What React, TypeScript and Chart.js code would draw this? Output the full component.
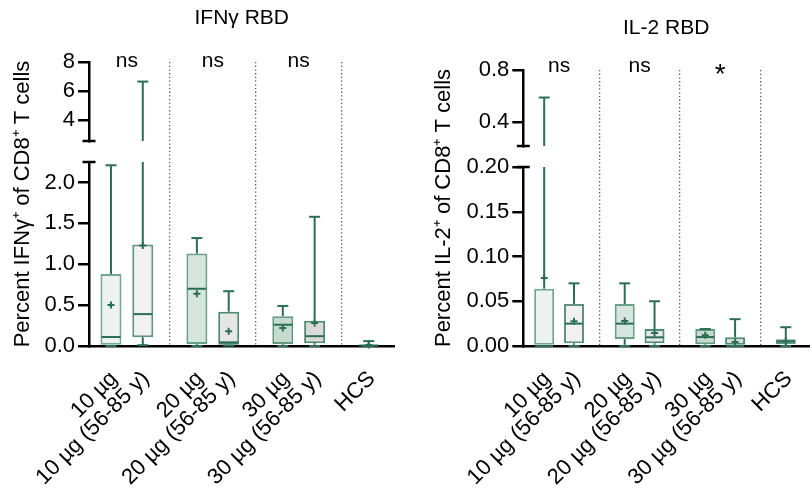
import React, { useEffect, useRef } from 'react';
import { Chart, registerables } from 'chart.js';

Chart.register(...registerables);

const FONT = '"Liberation Sans", Arial, Helvetica, sans-serif';
const GREEN = '#2b6e55';

// ---------- data ----------
const categories = ['10 µg', '10 µg (56-85 y)', '20 µg', '20 µg (56-85 y)', '30 µg', '30 µg (56-85 y)', 'HCS'];

// IFNγ RBD — percent IFNγ+ of CD8+ T cells
const ifnMin = [0.0, 0.01, 0.0, 0.005, 0.0, 0.0, 0.0];
const ifnQ1 = [0.0, 0.107, 0.025, 0.015, 0.025, 0.035, 0.0];
const ifnMedian = [0.11, 0.39, 0.7, 0.045, 0.26, 0.12, 0.006];
const ifnQ3 = [0.88, 1.24, 1.13, 0.42, 0.365, 0.31, 0.018];
const ifnMax = [2.21, 6.65, 1.32, 0.67, 0.49, 1.58, 0.06];
const ifnMean = [0.5, 1.23, 0.64, 0.18, 0.22, 0.28, 0.012];
const ifnSig = ['ns', 'ns', 'ns'];
const ifnLowTicks = [0, 0.5, 1.0, 1.5, 2.0];
const ifnHighTicks = [4, 6, 8];
const ifnLowRange = [0, 2.25];
const ifnHighRange = [2.55, 8];

// IL-2 RBD — percent IL-2+ of CD8+ T cells
const il2Min = [0.0, 0.0, 0.0, 0.0, 0.0, 0.0, 0.0];
const il2Q1 = [0.0, 0.003, 0.0078, 0.003, 0.002, 0.0, 0.002];
const il2Median = [0.0, 0.025, 0.025, 0.0097, 0.01, 0.0, 0.005];
const il2Q3 = [0.064, 0.047, 0.047, 0.019, 0.019, 0.0097, 0.0075];
const il2Max = [0.59, 0.07, 0.07, 0.05, 0.019, 0.03, 0.021];
const il2Mean = [0.076, 0.0276, 0.028, 0.0145, 0.012, 0.0045, 0.005];
const il2Sig = ['ns', 'ns', '*'];
const il2LowTicks = [0, 0.05, 0.1, 0.15, 0.2];
const il2HighTicks = [0.4, 0.8];
const il2LowRange = [0, 0.2];
const il2HighRange = [0.22, 0.8];

// ---------- styles ----------
const boxFills = ['#ecf2ef', '#f1f1f1', '#d6e5dd', '#e6e6e6', '#c6dbd0', '#dadada', '#dcebe3'];
const boxBorders = ['#76a592', '#5f937d', '#6a9f89', '#4f8a72', '#62997f', '#4f8a72', '#5f9a82'];

const xPos = (i: number) => 1 + i + 0.7 * Math.floor(i / 2);
const sepPos = [0, 1, 2].map((g) => xPos(2 * g + 1) + 0.85);

type Panel = {
  title: string;
  yTitle: string;
  min: number[]; q1: number[]; median: number[]; q3: number[]; max: number[]; mean: number[];
  sig: string[];
  lowTicks: number[]; highTicks: number[];
  lowRange: number[]; highRange: number[];
  decLow: number; decHigh: number;
  xMin: number; xMax: number;
  boxWidth: number;
  canvasW: number;
  pad: { left: number; right: number };
  titleTop: number; titleBottom: number;
  yTitleW: number; yAxisW: number; yTitlePadTop: number;
  hHigh: number; hGap: number; hLow: number;
  sigDy: number;
};

const ifnPanel: Panel = {
  title: 'IFNγ RBD',
  yTitle: 'Percent IFNγ⁺ of CD8⁺ T cells',
  min: ifnMin, q1: ifnQ1, median: ifnMedian, q3: ifnQ3, max: ifnMax, mean: ifnMean,
  sig: ifnSig,
  lowTicks: ifnLowTicks, highTicks: ifnHighTicks,
  lowRange: ifnLowRange, highRange: ifnHighRange,
  decLow: 1, decHigh: 0,
  xMin: 0.31, xMax: 9.91,
  boxWidth: 21,
  canvasW: 406,
  pad: { left: 0, right: 11 },
  titleTop: 6, titleBottom: 30.8,
  yTitleW: 36, yAxisW: 53, yTitlePadTop: 9.3,
  hHigh: 79, hGap: 21, hLow: 184,
  sigDy: 4.5,
};

const il2Panel: Panel = {
  title: 'IL-2 RBD',
  yTitle: 'Percent IL-2⁺ of CD8⁺ T cells',
  min: il2Min, q1: il2Q1, median: il2Median, q3: il2Q3, max: il2Max, mean: il2Mean,
  sig: il2Sig,
  lowTicks: il2LowTicks, highTicks: il2HighTicks,
  lowRange: il2LowRange, highRange: il2HighRange,
  decLow: 2, decHigh: 1,
  xMin: 0.3, xMax: 9.878,
  boxWidth: 20,
  canvasW: 414,
  pad: { left: 15, right: 0 },
  titleTop: 15.4, titleBottom: 29.4,
  yTitleW: 40, yAxisW: 62.3, yTitlePadTop: 9.8,
  hHigh: 76, hGap: 21, hLow: 179,
  sigDy: 1.7,
};

function makeConfig(p: Panel): any {
  const xs = categories.map((_, i) => xPos(i));
  const lowMax = p.lowRange[1];
  const highMin = p.highRange[0];
  const common = { xAxisID: 'x', yAxisID: 'yLow', clip: false };
  const pt = { pointBorderColor: GREEN, pointBackgroundColor: GREEN, pointHoverRadius: 0 };
  const stem = { type: 'bar', grouped: false, barThickness: 2, backgroundColor: GREEN, borderWidth: 0, inflateAmount: 0 };

  const datasets: any[] = [
    { type: 'scatter', ...common, ...pt, data: xs.map((x, i) => ({ x, y: p.mean[i] })), pointStyle: 'cross', pointRadius: 3.5, pointBorderWidth: 2 },
    { type: 'scatter', ...common, ...pt, data: xs.map((x, i) => ({ x, y: p.median[i] })), pointStyle: 'line', pointRadius: p.boxWidth / 2 - 1, pointBorderWidth: 2 },
    { type: 'scatter', ...common, ...pt, data: xs.map((x, i) => ({ x, y: p.min[i] })), pointStyle: 'line', pointRadius: 5.5, pointBorderWidth: 2 },
    { type: 'scatter', ...common, ...pt, data: xs.map((x, i) => ({ x, y: p.max[i] })).filter((d) => d.y <= lowMax), pointStyle: 'line', pointRadius: 5.5, pointBorderWidth: 2 },
    { type: 'scatter', ...common, ...pt, yAxisID: 'yHigh', data: xs.map((x, i) => ({ x, y: p.max[i] })).filter((d) => d.y > lowMax), pointStyle: 'line', pointRadius: 5.5, pointBorderWidth: 2 },
    { ...stem, ...common, data: xs.map((x, i) => ({ x, y: [p.min[i], p.q1[i]] })).filter((d) => d.y[1] > d.y[0]) },
    { ...stem, ...common, data: xs.map((x, i) => ({ x, y: [p.q3[i], Math.min(p.max[i], lowMax)] })).filter((d) => d.y[1] > d.y[0]) },
    { ...stem, ...common, yAxisID: 'yHigh', data: xs.map((x, i) => ({ x, y: [highMin, p.max[i]] })).filter((d) => d.y[1] > lowMax) },
    {
      type: 'bar', ...common, grouped: false, barThickness: p.boxWidth,
      data: xs.map((x, i) => ({ x, y: [p.q1[i], p.q3[i]] })),
      backgroundColor: boxFills, borderColor: boxBorders, borderWidth: 2, borderSkipped: false, inflateAmount: 0,
    },
  ];

  const tickFont = { family: FONT, size: 22 };
  const yGrid = { display: true, drawOnChartArea: false, drawTicks: true, tickLength: 11, tickWidth: 2.5, tickColor: '#000', color: '#000', lineWidth: 2.5 };
  const yBorder = { display: true, color: '#000', width: 2.5 };
  const fitY = (w: number) => (s: any) => { s.width = w; s.paddingTop = 0; s.paddingBottom = 0; };

  const extras = {
    id: 'extras',
    afterDraw(chart: any) {
      const { ctx, chartArea, scales } = chart;
      const ax = chartArea.left;
      ctx.save();
      ctx.strokeStyle = '#000';
      ctx.lineWidth = 2.5;
      [scales.yHigh.bottom, scales.yLow.top].forEach((y: number) => {
        ctx.beginPath();
        ctx.moveTo(ax - 6.5, y);
        ctx.lineTo(ax + 6.5, y);
        ctx.stroke();
      });
      ctx.fillStyle = '#000';
      ctx.textAlign = 'center';
      ctx.textBaseline = 'alphabetic';
      p.sig.forEach((t, g) => {
        const star = t === '*';
        ctx.font = `${star ? 28 : 21}px ${FONT}`;
        const x = scales.x.getPixelForValue(xPos(2 * g) + 0.5);
        const y = chartArea.top + p.sigDy + (star ? 11.5 : 0);
        ctx.fillText(t, x, y);
      });
      ctx.restore();
    },
  };

  return {
    type: 'scatter',
    data: { datasets },
    options: {
      responsive: false,
      animation: false,
      events: [],
      layout: { padding: { left: p.pad.left, right: p.pad.right, top: 0, bottom: 0 } },
      plugins: {
        legend: { display: false },
        tooltip: { enabled: false },
        title: {
          display: true, text: p.title, fullSize: false, color: '#000',
          font: { family: FONT, size: 21, weight: 'normal' },
          padding: { top: p.titleTop, bottom: p.titleBottom },
        },
      },
      scales: {
        x: {
          type: 'linear', position: 'bottom', min: p.xMin, max: p.xMax, offset: false,
          grid: { display: false, drawTicks: false, offset: false },
          border: { display: true, color: '#000', width: 2.5 },
          ticks: {
            autoSkip: false, maxRotation: 45, minRotation: 45, font: tickFont, color: '#000', padding: 20, labelOffset: 3,
            callback: (_v: any, i: number) => categories[i],
          },
          afterBuildTicks: (s: any) => { s.ticks = xs.map((v) => ({ value: v })); },
          afterFit: (s: any) => { s.height = 144; s.paddingLeft = 0; s.paddingRight = 0; },
        },
        xSep: {
          type: 'linear', position: 'bottom', min: p.xMin, max: p.xMax, offset: false,
          grid: { display: true, drawOnChartArea: true, drawTicks: false, color: '#5a5a5a', lineWidth: 1.3, offset: false },
          border: { display: false, dash: [1.3, 2.4] },
          ticks: { display: false },
          afterBuildTicks: (s: any) => { s.ticks = sepPos.map((v) => ({ value: v })); },
          afterFit: (s: any) => { s.height = 0; s.paddingLeft = 0; s.paddingRight = 0; },
        },
        yLow: {
          type: 'linear', position: 'left', stack: 'y', stackWeight: p.hLow,
          min: p.lowRange[0], max: p.lowRange[1], beginAtZero: false,
          grid: yGrid, border: yBorder,
          ticks: { font: tickFont, color: '#000', padding: 3, callback: (v: any) => Number(v).toFixed(p.decLow) },
          afterBuildTicks: (s: any) => { s.ticks = p.lowTicks.map((v) => ({ value: v })); },
          afterFit: fitY(p.yAxisW),
        },
        yGap: {
          type: 'linear', position: 'left', stack: 'y', stackWeight: p.hGap,
          grid: { display: false }, border: { display: false }, ticks: { display: false },
          afterFit: fitY(p.yAxisW),
        },
        yHigh: {
          type: 'linear', position: 'left', stack: 'y', stackWeight: p.hHigh,
          min: p.highRange[0], max: p.highRange[1], beginAtZero: false,
          grid: yGrid, border: yBorder,
          ticks: { font: tickFont, color: '#000', padding: 3, callback: (v: any) => Number(v).toFixed(p.decHigh) },
          afterBuildTicks: (s: any) => { s.ticks = p.highTicks.map((v) => ({ value: v })); },
          afterFit: fitY(p.yAxisW),
        },
        yTitle: {
          type: 'linear', position: 'left',
          grid: { display: false }, border: { display: false }, ticks: { display: false },
          title: {
            display: true, text: p.yTitle, color: '#000',
            font: { family: FONT, size: 22 },
            padding: { top: p.yTitlePadTop, bottom: 0 },
          },
          afterFit: fitY(p.yTitleW),
        },
      },
    },
    plugins: [extras],
  };
}

function PanelChart({ p, left }: { p: Panel; left: number }) {
  const ref = useRef<HTMLCanvasElement>(null);
  useEffect(() => {
    if (!ref.current) return;
    const chart = new Chart(ref.current, makeConfig(p));
    return () => chart.destroy();
  }, [p]);
  return (
    <canvas
      ref={ref}
      width={p.canvasW}
      height={490}
      style={{ position: 'absolute', left, top: 0, width: p.canvasW, height: 490, display: 'block' }}
    />
  );
}

export default function App() {
  return (
    <div style={{ position: 'fixed', left: 0, top: 0, width: 812, height: 490, background: '#fff', overflow: 'hidden' }}>
      <PanelChart p={ifnPanel} left={0} />
      <PanelChart p={il2Panel} left={406} />
    </div>
  );
}
